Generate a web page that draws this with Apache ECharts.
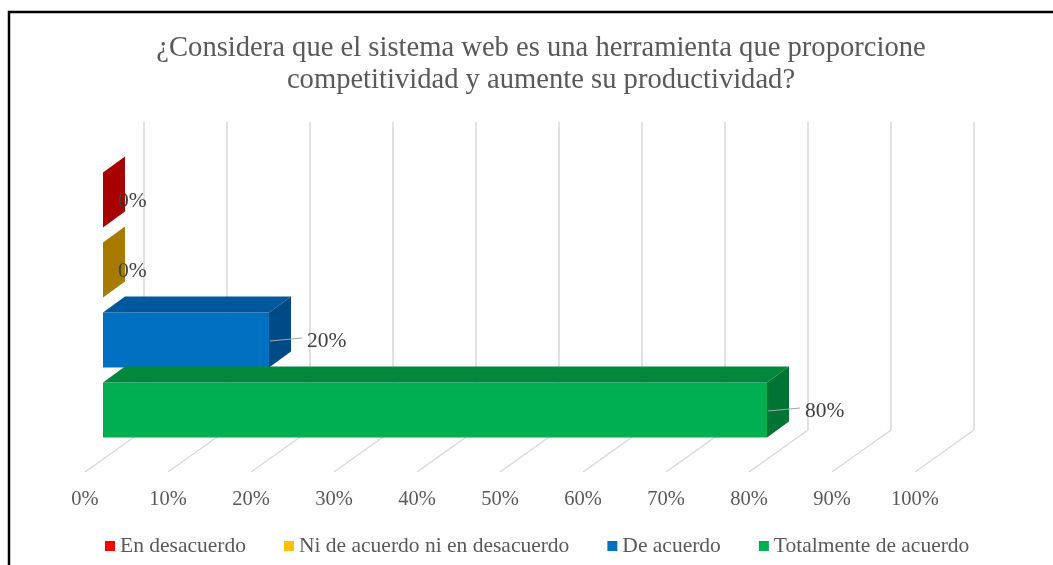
<!DOCTYPE html>
<html>
<head>
<meta charset="utf-8">
<script src="https://cdn.jsdelivr.net/npm/echarts@6/dist/echarts.min.js"></script>
<style>
  html, body { margin: 0; padding: 0; background: #ffffff; }
  #chart { width: 1053px; height: 565px; }
</style>
</head>
<body>
<div id="chart"></div>
<script>
// Survey answers (share of respondents, %)
const categories = [
  'En desacuerdo',
  'Ni de acuerdo ni en desacuerdo',
  'De acuerdo',
  'Totalmente de acuerdo'
];
const values = [0, 0, 20, 80];
const tickValues = [0, 10, 20, 30, 40, 50, 60, 70, 80, 90, 100];

// Palette: legend swatch + shaded faces of each 3D bar
const legendColors = ['#FF0000', '#FFC000', '#0070C0', '#00B050'];
const frontColors  = ['#C00000', '#D9A000', '#0070C0', '#00B050'];
const topColors    = ['#B00000', '#B88800', '#00589C', '#00893D'];
const sideColors   = ['#A80000', '#A67B00', '#004A86', '#007533'];

const FONT = '"Liberation Serif", "Times New Roman", serif';
const TEXT = '#595959';

// Depth of a bar (offset of its back face) and of the wall/floor
const BAR_DX = 22, BAR_DY = -16;
const FLOOR_FRONT_DX = -18, FLOOR_BACK_DX = 41;

const chart = echarts.init(document.getElementById('chart'), null, { renderer: 'canvas' });

function renderBar(idx) {
  return function (params, api) {
    const v = api.value(0);
    const c = api.value(1);
    const p0 = api.coord([0, c]);
    const p1 = api.coord([v, c]);
    const band = api.size([0, 1])[1];
    const h = band * 0.785;
    const x0 = p0[0], x1 = p1[0];
    const yt = p0[1] - h / 2, yb = p0[1] + h / 2, mid = p0[1];
    const children = [];
    if (x1 - x0 > 0.5) {
      children.push({
        type: 'rect',
        shape: { x: x0, y: yt, width: x1 - x0, height: h },
        style: { fill: frontColors[idx] }
      });
      children.push({
        type: 'polygon',
        shape: { points: [[x0, yt], [x1, yt], [x1 + BAR_DX, yt + BAR_DY], [x0 + BAR_DX, yt + BAR_DY]] },
        style: { fill: topColors[idx] }
      });
    }
    children.push({
      type: 'polygon',
      shape: { points: [[x1, yt], [x1 + BAR_DX, yt + BAR_DY], [x1 + BAR_DX, yb + BAR_DY], [x1, yb]] },
      style: { fill: sideColors[idx] }
    });
    const hasLeader = v > 0;
    if (hasLeader) {
      children.push({
        type: 'line',
        shape: { x1: x1 + 1, y1: mid + 1, x2: x1 + 33, y2: mid - 2 },
        style: { stroke: '#A6A6A6', lineWidth: 1.2 }
      });
    }
    children.push({
      type: 'text',
      style: {
        text: v + '%',
        x: x1 + (hasLeader ? 38 : 15),
        y: mid + 1,
        verticalAlign: 'middle',
        align: 'left',
        fill: '#404040',
        font: '21.5px ' + FONT
      }
    });
    return { type: 'group', children: children };
  };
}

// Back wall gridlines and the floor lines leading to them
function renderWalls(params, api) {
  const v = api.value(0);
  const cs = params.coordSys;
  const x = api.coord([v, 0])[0];
  const bottom = cs.y + cs.height;
  const wallTop = cs.y - 43, wallBottom = bottom - 15, floorFront = bottom + 27;
  const style = { stroke: '#D9D9D9', lineWidth: 1.5 };
  return {
    type: 'group',
    children: [
      { type: 'line', shape: { x1: x + FLOOR_BACK_DX, y1: wallTop, x2: x + FLOOR_BACK_DX, y2: wallBottom }, style: style },
      { type: 'line', shape: { x1: x + FLOOR_FRONT_DX, y1: floorFront, x2: x + FLOOR_BACK_DX, y2: wallBottom }, style: style }
    ]
  };
}

const barSeries = categories.map(function (name, i) {
  return {
    name: name,
    type: 'custom',
    xAxisIndex: 0,
    yAxisIndex: 0,
    itemStyle: { color: legendColors[i] },
    renderItem: renderBar(i),
    data: [[values[i], i]],
    z: 3,
    silent: true
  };
});

const option = {
  backgroundColor: '#ffffff',
  animation: false,
  title: {
    text: '¿Considera que el sistema web es una herramienta que proporcione\ncompetitividad y aumente su productividad?',
    left: 536,
    top: 27,
    textAlign: 'center',
    textStyle: { fontFamily: FONT, fontSize: 28.6, fontWeight: 'normal', color: TEXT, lineHeight: 32 }
  },
  legend: {
    data: categories,
    left: 100,
    top: 530,
    icon: 'rect',
    itemWidth: 10,
    itemHeight: 10,
    itemGap: 38,
    textStyle: { fontFamily: FONT, fontSize: 21.5, color: TEXT }
  },
  grid: [
    { left: 103, width: 830, top: 165, height: 280 },
    { left: 85, width: 830, top: 165, height: 280 }
  ],
  xAxis: [
    { type: 'value', gridIndex: 0, min: 0, max: 100, interval: 10, show: false },
    {
      type: 'value', gridIndex: 1, min: 0, max: 100, interval: 10,
      axisLine: { show: false }, axisTick: { show: false }, splitLine: { show: false },
      axisLabel: { formatter: '{value}%', margin: 44, fontFamily: FONT, fontSize: 20.5, color: TEXT }
    }
  ],
  yAxis: [
    { type: 'category', gridIndex: 0, data: categories, inverse: true, show: false },
    { type: 'category', gridIndex: 1, data: categories, inverse: true, show: false }
  ],
  graphic: [
    {
      type: 'polyline',
      shape: { points: [[9, 570], [9, 12], [1060, 12]] },
      style: { stroke: '#000000', lineWidth: 2.5, fill: null },
      z: 10
    }
  ],
  series: [
    {
      name: 'walls',
      type: 'custom',
      xAxisIndex: 0,
      yAxisIndex: 0,
      renderItem: renderWalls,
      data: tickValues.map(function (t) { return [t]; }),
      z: 1,
      silent: true
    }
  ].concat(barSeries)
};

chart.setOption(option);
</script>
</body>
</html>
